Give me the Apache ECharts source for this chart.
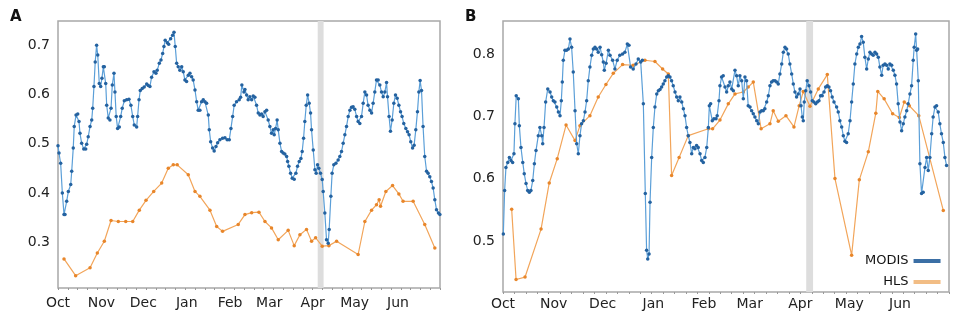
<!DOCTYPE html>
<html>
<head>
<meta charset="utf-8">
<script src="https://cdn.jsdelivr.net/npm/echarts@6/dist/echarts.min.js"></script>
<style>
  html, body { margin: 0; padding: 0; background: #fff; }
  #chart { width: 957px; height: 317px; }
</style>
</head>
<body>
<div id="chart"></div>
<script>
// day 0 = Oct 1, 273 = Jul 1
var monthNames = ['Oct', 'Nov', 'Dec', 'Jan', 'Feb', 'Mar', 'Apr', 'May', 'Jun'];
var monthStarts = [0, 31, 61, 92, 123, 151, 182, 212, 243];
var ticksA = [0.3, 0.4, 0.5, 0.6, 0.7];
var ticksB = [0.5, 0.6, 0.7, 0.8];
var gapDays = [185.6, 189.8];

// panel A
var modisA = [[0,0.496],[0.7,0.481],[1.9,0.46],[3.1,0.40],[4.3,0.356],[5,0.356],[6.2,0.383],[7.4,0.403],[9.1,0.417],[9.8,0.444],[10.9,0.491],[11.6,0.535],[12.9,0.558],[14.1,0.56],[15,0.545],[15.7,0.521],[16.9,0.501],[18.4,0.489],[19.8,0.489],[20.5,0.499],[21.6,0.514],[22.9,0.535],[24.1,0.548],[24.8,0.572],[25.7,0.616],[26.6,0.666],[27.6,0.70],[28.4,0.68],[29.5,0.622],[30.5,0.616],[31.4,0.633],[32.4,0.656],[33.1,0.656],[34.1,0.622],[34.8,0.578],[35.9,0.552],[37.1,0.548],[37.9,0.572],[38.8,0.619],[40,0.643],[40.7,0.605],[41.6,0.555],[42.6,0.531],[43.8,0.534],[44.8,0.555],[45.9,0.572],[47.4,0.587],[49.1,0.589],[50.7,0.59],[52.1,0.578],[53.4,0.555],[54.5,0.538],[56.2,0.534],[56.9,0.555],[57.9,0.589],[58.8,0.608],[60.2,0.612],[61.6,0.615],[63.4,0.621],[64.5,0.618],[65.7,0.616],[66.9,0.635],[68.6,0.646],[70,0.643],[70.9,0.649],[72.4,0.663],[73.6,0.67],[74.8,0.683],[75.7,0.697],[76.6,0.71],[78.1,0.705],[79.1,0.702],[80.5,0.713],[81.9,0.72],[82.9,0.726],[83.8,0.697],[84.8,0.663],[85.9,0.656],[87.1,0.649],[88.4,0.656],[89.5,0.646],[90.7,0.629],[91.9,0.626],[93.1,0.639],[94.3,0.643],[95.5,0.636],[96.6,0.629],[97.9,0.609],[99.1,0.585],[100.2,0.568],[101.4,0.568],[102.6,0.585],[103.8,0.589],[105,0.585],[106.2,0.582],[107.4,0.558],[108.1,0.528],[109.1,0.504],[110.5,0.491],[111.6,0.485],[112.9,0.494],[114.1,0.502],[115.7,0.508],[117.6,0.511],[119.3,0.512],[120.9,0.508],[122.4,0.508],[123.6,0.531],[124.8,0.555],[125.9,0.578],[127.6,0.585],[129.5,0.589],[130.5,0.594],[131.4,0.619],[132.9,0.605],[133.6,0.61],[134.8,0.599],[135.9,0.589],[137.1,0.595],[138.4,0.589],[139.5,0.597],[140.7,0.594],[141.9,0.578],[143.1,0.562],[144.3,0.558],[145.5,0.56],[146.6,0.555],[147.9,0.565],[149.1,0.568],[150.2,0.548],[151.4,0.535],[152.6,0.521],[153.8,0.528],[154.5,0.518],[155.5,0.531],[156.6,0.548],[157.4,0.528],[158.6,0.501],[159.8,0.484],[160.9,0.481],[162.1,0.479],[163.4,0.474],[164.1,0.464],[165,0.454],[166.2,0.44],[167.4,0.43],[168.8,0.428],[170,0.44],[171.2,0.454],[172.4,0.464],[173.6,0.47],[174.5,0.484],[175.5,0.511],[176.4,0.545],[177.4,0.578],[178.4,0.599],[179.5,0.582],[180.5,0.562],[181.2,0.528],[182.4,0.487],[183.6,0.447],[184.5,0.44],[185.5,0.457],[186.4,0.45],[187.6,0.44],[188.8,0.427],[189.5,0.403],[190.7,0.359],[191.9,0.305],[193.1,0.298],[193.8,0.326],[195,0.393],[195.9,0.44],[197.1,0.457],[198.6,0.46],[200.2,0.467],[201.4,0.474],[202.6,0.484],[203.8,0.501],[205,0.518],[206.2,0.535],[207.4,0.555],[208.6,0.568],[209.8,0.574],[210.9,0.575],[212.1,0.57],[213.4,0.555],[214.5,0.545],[215.7,0.541],[216.9,0.555],[218.1,0.582],[219.3,0.605],[220.5,0.599],[221.6,0.578],[222.9,0.568],[224.1,0.562],[225.2,0.582],[226.4,0.605],[227.6,0.629],[228.8,0.629],[230,0.619],[231.2,0.605],[232.4,0.595],[233.6,0.605],[234.8,0.624],[235.5,0.595],[236.6,0.555],[237.6,0.525],[238.8,0.548],[240,0.582],[241.2,0.599],[242.4,0.592],[243.6,0.578],[244.8,0.565],[245.9,0.555],[247.1,0.541],[248.6,0.531],[249.8,0.524],[250.9,0.518],[252.1,0.504],[253.4,0.491],[254.5,0.497],[255.7,0.528],[256.9,0.565],[257.9,0.605],[258.8,0.628],[259.8,0.608],[260.9,0.535],[262.1,0.474],[263.4,0.444],[264.5,0.44],[265.7,0.433],[266.9,0.423],[268.1,0.41],[269.3,0.386],[270.5,0.366],[271.9,0.359],[272.9,0.356]];
var hlsA = [[4.3,0.266],[12.6,0.232],[22.9,0.248],[28.1,0.278],[33.1,0.302],[37.9,0.344],[43.1,0.342],[48.4,0.342],[53.4,0.342],[58.1,0.365],[62.9,0.385],[68.4,0.403],[74.1,0.42],[78.8,0.45],[82.4,0.457],[85.2,0.457],[93.1,0.437],[97.9,0.403],[101.4,0.393],[108.6,0.365],[113.4,0.332],[117.6,0.322],[128.8,0.336],[133.6,0.356],[138.4,0.36],[143.6,0.361],[147.9,0.342],[152.6,0.329],[157.4,0.305],[164.5,0.324],[168.8,0.293],[172.9,0.315],[177.6,0.326],[181.2,0.302],[184.1,0.309],[188.8,0.292],[193.6,0.293],[199.1,0.302],[214.5,0.275],[219.3,0.342],[224.1,0.365],[227.6,0.376],[229.5,0.386],[230.5,0.373],[234.3,0.403],[239.1,0.415],[243.6,0.398],[246.6,0.383],[253.8,0.383],[262.1,0.336],[269.3,0.288]];

// panel B
var modisB = [[0.2,0.511],[1,0.581],[1.8,0.618],[2.9,0.626],[3.9,0.634],[4.9,0.629],[5.9,0.626],[6.7,0.64],[7.3,0.688],[8.1,0.733],[9.4,0.728],[10,0.685],[11,0.65],[12.1,0.626],[13,0.608],[14.1,0.592],[15.1,0.581],[16.1,0.578],[17.1,0.581],[18.2,0.597],[19.2,0.624],[20.2,0.645],[21.6,0.669],[22.6,0.682],[23.7,0.669],[24.3,0.656],[25.1,0.682],[26.1,0.723],[27.4,0.744],[28.8,0.739],[29.8,0.731],[30.8,0.725],[31.8,0.723],[32.9,0.715],[33.9,0.707],[34.9,0.701],[35.7,0.725],[36.3,0.755],[36.9,0.79],[37.9,0.806],[38.9,0.806],[40,0.808],[41,0.824],[42,0.811],[43,0.771],[44.1,0.709],[45.1,0.656],[46.1,0.64],[47.1,0.669],[48.1,0.688],[49.2,0.693],[50.2,0.707],[51.2,0.725],[52.2,0.757],[53.2,0.779],[54.3,0.798],[55.3,0.808],[56.3,0.811],[57.3,0.808],[58.3,0.803],[59.4,0.811],[60.4,0.799],[61.4,0.787],[62,0.774],[63.1,0.785],[64.5,0.806],[65.5,0.798],[67.1,0.79],[68.5,0.776],[69.9,0.79],[71.5,0.798],[73.2,0.8],[74.6,0.803],[76.1,0.816],[77.1,0.814],[78.1,0.779],[79.7,0.776],[81.4,0.784],[82.8,0.792],[84.3,0.787],[85.3,0.79],[85.9,0.72],[87.1,0.576],[87.9,0.485],[88.6,0.471],[89.4,0.479],[90,0.562],[91,0.634],[92,0.682],[93,0.715],[94.1,0.736],[95.1,0.741],[96.1,0.743],[97.1,0.747],[98.1,0.752],[99.1,0.757],[100.2,0.763],[101.2,0.765],[102.2,0.763],[103.2,0.757],[104.2,0.749],[105.3,0.739],[106.3,0.731],[107.3,0.725],[108.3,0.731],[109.4,0.723],[110.4,0.712],[111.4,0.701],[112.4,0.682],[113.4,0.669],[114.4,0.658],[115.5,0.64],[116.5,0.65],[117.5,0.648],[118.5,0.653],[119.5,0.65],[120.6,0.64],[121.6,0.629],[122.6,0.626],[123.6,0.634],[124.7,0.65],[125.7,0.682],[126.3,0.717],[127.1,0.72],[128.1,0.693],[129.1,0.696],[130.4,0.696],[131.1,0.701],[132.2,0.725],[132.8,0.749],[133.8,0.763],[134.8,0.765],[135.9,0.747],[136.9,0.739],[137.9,0.749],[138.9,0.755],[140,0.744],[141,0.741],[142,0.774],[143,0.765],[144,0.749],[145,0.765],[146.1,0.757],[147.1,0.728],[148.1,0.763],[149.1,0.757],[150.1,0.717],[151.2,0.715],[152.2,0.709],[153.2,0.704],[154.2,0.699],[155.3,0.693],[156.3,0.688],[157.3,0.707],[158.3,0.709],[159.3,0.709],[160.3,0.712],[161.4,0.723],[162.4,0.733],[163.4,0.749],[164.4,0.755],[165.4,0.757],[166.5,0.757],[167.5,0.755],[168.5,0.752],[169.5,0.768],[170.6,0.784],[171.6,0.803],[172.6,0.811],[173.6,0.808],[174.6,0.8],[175.6,0.784],[176.7,0.768],[177.7,0.752],[178.7,0.739],[179.7,0.731],[180.7,0.736],[181.8,0.744],[182.4,0.717],[183.2,0.699],[183.8,0.693],[184.4,0.723],[185.3,0.741],[186.2,0.757],[187.3,0.749],[188.3,0.739],[189.3,0.725],[190.3,0.723],[191.4,0.72],[192.4,0.723],[193.4,0.725],[194.4,0.733],[195.4,0.733],[196.5,0.739],[197.5,0.747],[198.5,0.749],[199.5,0.747],[200.5,0.741],[201.5,0.731],[202.6,0.723],[204.2,0.715],[205.2,0.707],[206.2,0.693],[207.3,0.683],[208.3,0.669],[209.3,0.66],[210.3,0.658],[211.3,0.672],[212.4,0.693],[213.4,0.723],[214.4,0.752],[215.4,0.784],[216.5,0.8],[217.5,0.811],[218.5,0.816],[219.5,0.828],[220.5,0.819],[221.5,0.795],[222.6,0.776],[223.6,0.792],[224.6,0.803],[225.6,0.8],[226.6,0.798],[227.7,0.803],[228.7,0.8],[229.7,0.795],[230.7,0.779],[231.8,0.766],[232.7,0.782],[233.8,0.784],[234.8,0.782],[235.8,0.776],[236.8,0.784],[237.9,0.782],[238.9,0.774],[239.9,0.766],[240.9,0.752],[241.9,0.72],[243,0.691],[244,0.677],[245,0.688],[246,0.699],[247.1,0.709],[248,0.72],[249.1,0.736],[250.1,0.749],[251.1,0.79],[251.7,0.811],[252.6,0.832],[253.2,0.806],[253.8,0.808],[254.2,0.757],[255.2,0.624],[256.2,0.576],[257.2,0.578],[258.3,0.618],[259.3,0.634],[260.3,0.613],[261.3,0.634],[262.4,0.672],[263.3,0.699],[264.4,0.715],[265.4,0.717],[266.4,0.707],[267.4,0.688],[268.4,0.672],[269.5,0.658],[270.5,0.634],[271.5,0.621]];
var hlsB = [[5.3,0.551],[8,0.438],[13.5,0.442],[23.3,0.519],[28.3,0.593],[33.2,0.632],[38.6,0.686],[44.1,0.661],[47.1,0.685],[53.2,0.701],[58.3,0.731],[63,0.751],[67.5,0.769],[73.2,0.783],[79.7,0.782],[86.9,0.79],[93,0.788],[97.7,0.776],[101.2,0.768],[103.2,0.605],[107.8,0.634],[113.4,0.669],[125.7,0.68],[128.3,0.68],[132.8,0.694],[137.9,0.72],[142,0.736],[147.1,0.739],[150.1,0.747],[153.2,0.755],[158,0.68],[163.4,0.688],[165.4,0.709],[168.5,0.692],[173.2,0.701],[178.1,0.683],[181.3,0.717],[183.8,0.74],[187.9,0.716],[193,0.744],[198.5,0.767],[203.2,0.6],[213.4,0.477],[218.1,0.598],[223.6,0.643],[228.2,0.705],[229.4,0.74],[233.3,0.728],[238.5,0.704],[242.6,0.698],[245.6,0.723],[248.7,0.717],[254.5,0.701],[269.5,0.549]];

var weekTicks = [];
for (var d = 0; d <= 273; d += 7) weekTicks.push(d);

var font = 'DejaVu Sans';
var modisLine = '#5b9fd8', modisDot = '#2462a0';
var hlsLine = '#f2a55a', hlsDot = '#e8862a';

function xAxisFor(gi) {
    return {
        type: 'value', gridIndex: gi, min: 0, max: 273,
        splitLine: {show: false},
        axisLine: {show: false},
        axisTick: {show: true, customValues: weekTicks, length: 2, lineStyle: {color: '#999'}},
        axisLabel: {
            customValues: monthStarts,
            margin: gi === 0 ? 8 : 5,
            fontFamily: font, fontSize: 14, color: '#222',
            formatter: function (v) { return monthNames[monthStarts.indexOf(Math.round(v))] || ''; }
        }
    };
}
function yAxisFor(gi, min, max, ticks) {
    return {
        type: 'value', gridIndex: gi, min: min, max: max,
        splitLine: {show: false},
        axisLine: {show: false},
        axisTick: {show: false},
        axisLabel: {
            customValues: ticks, margin: 8,
            fontFamily: font, fontSize: 14, color: '#222',
            formatter: function (v) { return v.toFixed(1); }
        }
    };
}
function modisSeries(gi, data) {
    return {
        name: 'MODIS', type: 'line', xAxisIndex: gi, yAxisIndex: gi, z: 6,
        data: data, showAllSymbol: true, symbol: 'circle', symbolSize: 3.5,
        lineStyle: {color: modisLine, width: 1.2},
        itemStyle: {color: modisDot}
    };
}
function hlsSeries(gi, data) {
    return {
        name: 'HLS', type: 'line', xAxisIndex: gi, yAxisIndex: gi, z: 5,
        data: data, showAllSymbol: true, symbol: 'circle', symbolSize: 3.5,
        lineStyle: {color: hlsLine, width: 1.2},
        itemStyle: {color: hlsDot}
    };
}
function bandSeries(gi) {
    return {
        name: 'band', type: 'line', xAxisIndex: gi, yAxisIndex: gi, z: 0,
        data: [], silent: true,
        markArea: {
            silent: true, z: 0,
            itemStyle: {color: '#dddddd'},
            data: [[{xAxis: gapDays[0]}, {xAxis: gapDays[1]}]]
        }
    };
}

var chart = echarts.init(document.getElementById('chart'));
chart.setOption({
    animation: false,
    backgroundColor: '#fff',
    title: [
        {text: 'A', left: 5, top: 5, textStyle: {fontFamily: font, fontSize: 15, fontWeight: 'bold', color: '#111'}},
        {text: 'B', left: 460, top: 5, textStyle: {fontFamily: font, fontSize: 15, fontWeight: 'bold', color: '#111'}}
    ],
    grid: [
        {left: 58, top: 21, width: 382, height: 267, show: true, borderColor: '#a8a8a8', borderWidth: 1.5, backgroundColor: 'transparent'},
        {left: 503, top: 21, width: 446, height: 271, show: true, borderColor: '#a8a8a8', borderWidth: 1.5, backgroundColor: 'transparent'}
    ],
    legend: {
        orient: 'vertical', left: 860, top: 249, align: 'right',
        itemWidth: 27, itemHeight: 4, itemGap: 7,
        textStyle: {fontFamily: font, fontSize: 13, color: '#111', lineHeight: 14},
        data: [
            {name: 'MODIS', icon: 'rect', itemStyle: {color: '#3b6fa5'}},
            {name: 'HLS', icon: 'rect', itemStyle: {color: '#f2bd85'}}
        ]
    },
    xAxis: [xAxisFor(0), xAxisFor(1)],
    yAxis: [yAxisFor(0, 0.207, 0.749, ticksA), yAxisFor(1, 0.418, 0.853, ticksB)],
    series: [
        bandSeries(0), hlsSeries(0, hlsA), modisSeries(0, modisA),
        bandSeries(1), hlsSeries(1, hlsB), modisSeries(1, modisB)
    ]
});
window.addEventListener('resize', function () { chart.resize(); });
</script>
</body>
</html>
